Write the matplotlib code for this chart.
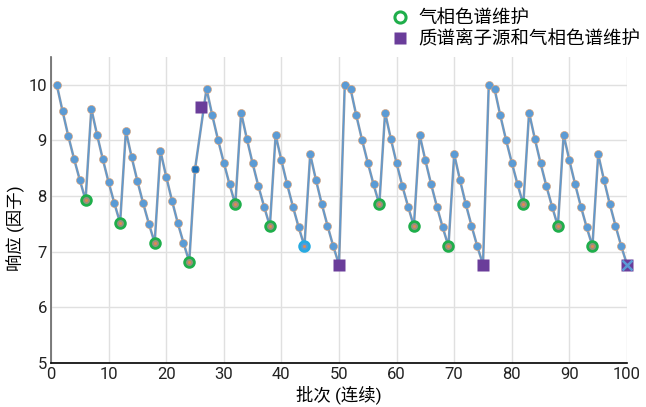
import matplotlib
matplotlib.use("Agg")
import matplotlib.pyplot as plt
from matplotlib.lines import Line2D

plt.rcParams['font.family'] = ['Roboto', 'Noto Sans CJK SC', 'DejaVu Sans']

batch = [1, 2, 3, 4, 5, 6, 7, 8, 9, 10, 11, 12, 13, 14, 15, 16, 17, 18, 19, 20,
         21, 22, 23, 24, 25, 27, 28, 29, 30, 31, 32, 33, 34, 35, 36, 37, 38, 39, 40,
         41, 42, 43, 44, 45, 46, 47, 48, 49, 50, 51, 52, 53, 54, 55, 56, 57, 58, 59, 60,
         61, 62, 63, 64, 65, 66, 67, 68, 69, 70, 71, 72, 73, 74, 75, 76, 77, 78, 79, 80,
         81, 82, 83, 84, 85, 86, 87, 88, 89, 90, 91, 92, 93, 94, 95, 96, 97, 98, 99, 100]
response = [10.00, 9.53, 9.08, 8.67, 8.29, 7.93, 9.57, 9.10, 8.66, 8.25, 7.87, 7.52,
            9.17, 8.70, 8.27, 7.87, 7.50, 7.16, 8.81, 8.35, 7.92, 7.52, 7.16, 6.82,
            8.48, 9.93, 9.45, 9.01, 8.60, 8.21, 7.85, 9.50, 9.03, 8.59, 8.18, 7.81, 7.46,
            9.10, 8.64, 8.21, 7.81, 7.44, 7.10, 8.75, 8.29, 7.86, 7.47, 7.10, 6.77,
            10.00, 9.93, 9.45, 9.01, 8.60, 8.21, 7.85, 9.50, 9.03, 8.59, 8.18, 7.81, 7.46,
            9.10, 8.64, 8.21, 7.81, 7.44, 7.10, 8.75, 8.29, 7.86, 7.47, 7.10, 6.77,
            10.00, 9.93, 9.45, 9.01, 8.60, 8.21, 7.85, 9.50, 9.03, 8.59, 8.18, 7.81, 7.46,
            9.10, 8.64, 8.21, 7.81, 7.44, 7.10, 8.75, 8.29, 7.86, 7.47, 7.10, 6.77]

gc_batch = [6, 12, 18, 24, 32, 38, 57, 63, 69, 82, 88, 94]
gc_resp = [7.93, 7.52, 7.16, 6.82, 7.85, 7.46, 7.85, 7.46, 7.10, 7.85, 7.46, 7.10]
gc2_batch = [44]
gc2_resp = [7.10]
ms_batch = [26, 50, 75, 100]
ms_resp = [9.60, 6.77, 6.77, 6.77]
new_batch = [25]
new_resp = [8.48]
x_batch = [100]
x_resp = [6.77]

fig = plt.figure(figsize=(6.46, 4.07), dpi=100)
ax = fig.add_axes([51/646, 44/407, 576/646, 306/407])

ax.plot(batch, response, color='#8d98a8', lw=1.8, zorder=2, clip_on=False)
ax.plot(batch, response, color='#5b9bd5', lw=0.8, zorder=3, clip_on=False)
ax.plot(batch, response, ls='none', marker='o', ms=5.8, mfc='#5b9bd5',
        mec='#e0a070', mew=0.4, zorder=4, clip_on=False)
ax.plot(gc_batch, gc_resp, ls='none', marker='o', ms=7, mfc='#9a9080',
        mec='#1fae4b', mew=2, zorder=5)
ax.plot(gc_batch, gc_resp, ls='none', marker='o', ms=2.2, mfc='#e08a50',
        mec='none', zorder=6)
ax.plot(gc2_batch, gc2_resp, ls='none', marker='o', ms=7, mfc='#5b9bd5',
        mec='#27aae1', mew=2, zorder=5)
ax.plot(gc2_batch, gc2_resp, ls='none', marker='o', ms=2.2, mfc='#e08a50',
        mec='none', zorder=6)
ax.plot(new_batch, new_resp, ls='none', marker='s', ms=4.5, mfc='#1f6fb4',
        mec='none', zorder=6)
ax.plot(ms_batch, ms_resp, ls='none', marker='s', ms=9, mfc='#6a3d9a',
        mec='none', zorder=7, clip_on=False)
ax.plot(x_batch, x_resp, ls='none', marker='x', ms=7, mec='#5b9bd5', mew=1.8,
        zorder=8, clip_on=False)

ax.set_xlim(0, 100)
ax.set_ylim(5, 10.5)
ax.set_xticks(range(0, 101, 10))
ax.set_yticks(range(5, 11))
ax.grid(True, color='#e0e0e0', lw=1)
ax.set_axisbelow(True)
for s in ['top', 'right']:
    ax.spines[s].set_visible(False)
ax.spines['left'].set_color('#666666')
ax.spines['left'].set_linewidth(1.2)
ax.spines['bottom'].set_color('#000000')
ax.spines['bottom'].set_linewidth(1.2)
ax.tick_params(length=0, labelsize=12, colors='#222222', pad=3)
ax.set_xlabel('批次 (连续)', fontsize=12.5, labelpad=2)
ax.set_ylabel('响应 (因子)', fontsize=12.5, labelpad=2)
ax.yaxis.set_label_coords(-0.045, 0.44)

handles = [
    Line2D([], [], ls='none', marker='o', ms=8, mfc='white', mec='#1fae4b', mew=2.2),
    Line2D([], [], ls='none', marker='s', ms=8.5, mfc='#6a3d9a', mec='none'),
]
labels = ['气相色谱维护', '质谱离子源和气相色谱维护']
fig.legend(handles, labels, loc='upper left', bbox_to_anchor=(382/646, 1.005),
           frameon=False, fontsize=13.3, handlelength=0.8, handletextpad=0.55,
           labelspacing=0.2, borderaxespad=0.2)

fig.savefig('out.png', dpi=100)
